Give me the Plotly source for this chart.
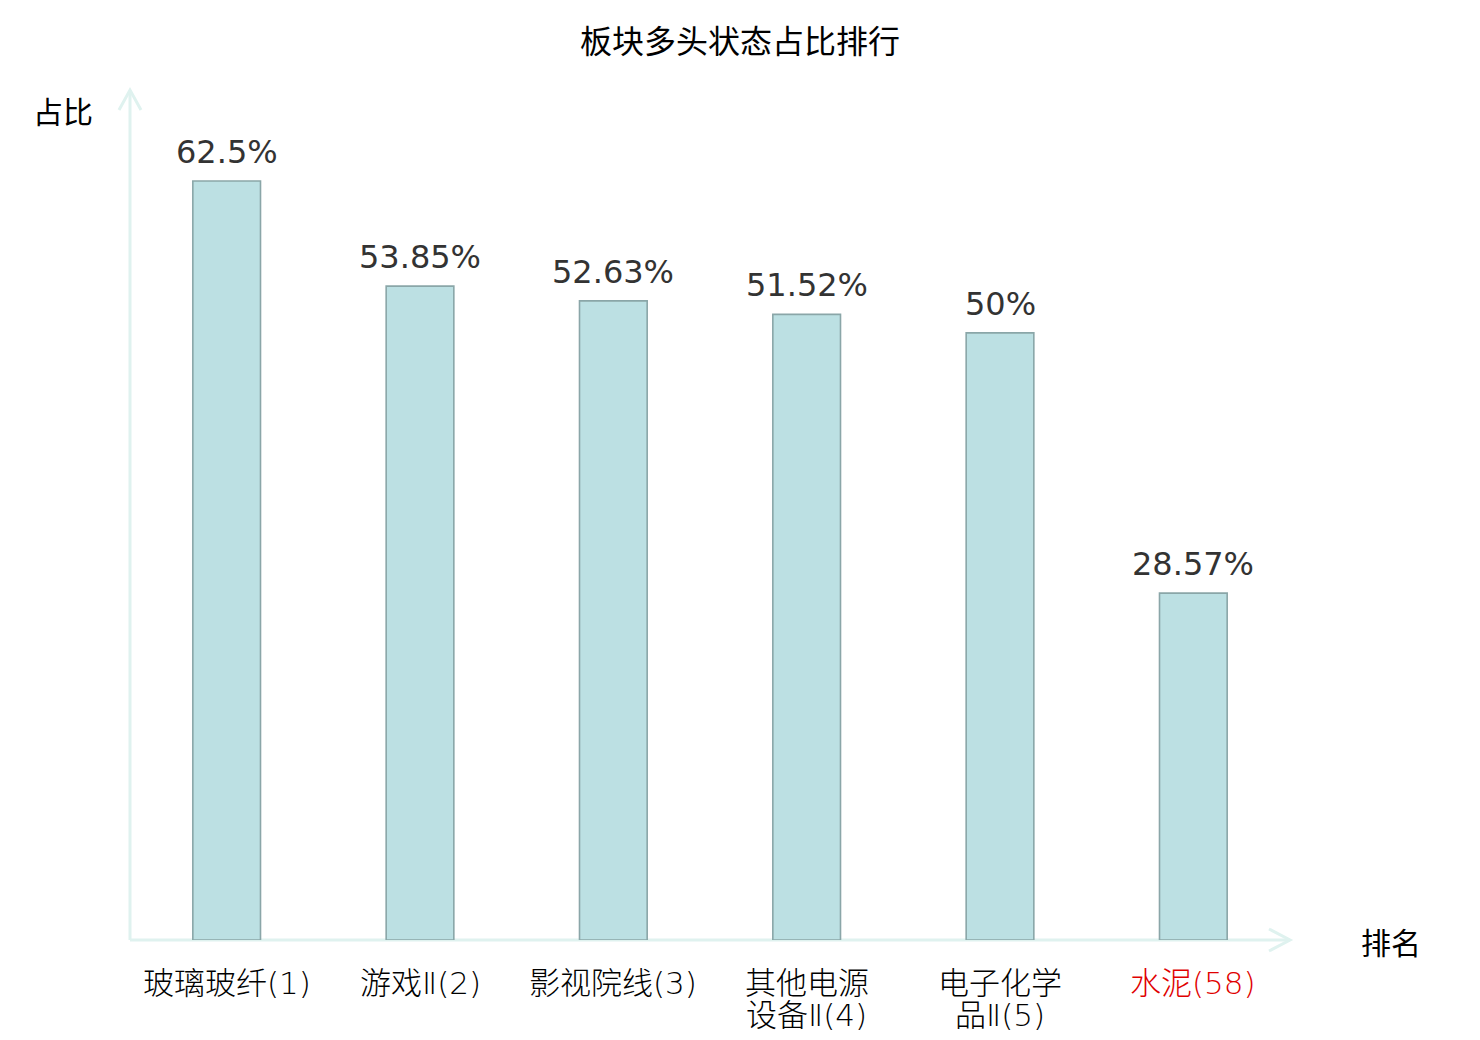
import plotly.graph_objects as go

# 板块多头状态占比排行
categories = ["玻璃玻纤(1)", "游戏Ⅱ(2)", "影视院线(3)", "其他电源设备Ⅱ(4)", "电子化学品Ⅱ(5)", "水泥(58)"]
label_lines = [["玻璃玻纤(1)"], ["游戏Ⅱ(2)"], ["影视院线(3)"],
               ["其他电源", "设备Ⅱ(4)"], ["电子化学", "品Ⅱ(5)"], ["水泥(58)"]]
label_colors = ["#000000", "#000000", "#000000", "#000000", "#000000", "#e00000"]
ratios = [62.5, 53.85, 52.63, 51.52, 50, 28.57]

axis_color = "#dff2ef"
font_stack = "DejaVu Sans, Noto Sans CJK SC"
light_stack = "DejaVu Sans ExtraLight, DejaVu Sans, Noto Sans CJK SC"

# the page body has an 8px margin, plot area wanted at (130, 90)-(1290, 940)
off = 8
left, top, pw, ph = 130 - off, 90 - off, 1160, 850

fig = go.Figure()

fig.add_trace(go.Bar(
    x=categories, y=ratios, width=0.35,
    marker=dict(color="rgb(188,224,227)", line=dict(color="rgb(138,166,168)", width=1.6)),
    hoverinfo="x+y", showlegend=False))

annotations = []
# value labels above the bars
for c, v in zip(categories, ratios):
    annotations.append(dict(x=c, y=v, xref="x", yref="y", text=f"{v:g}%", showarrow=False,
                            yanchor="bottom", yshift=8,
                            font=dict(family="DejaVu Sans", size=32, color="#333333")))

# category labels (two lines where the name is long)
for c, lines, col in zip(categories, label_lines, label_colors):
    for i, t in enumerate(lines):
        annotations.append(dict(x=c, y=0, xref="x", yref="y", text=t, showarrow=False,
                                yanchor="middle", yshift=-(43 + 31.5 * i),
                                font=dict(family=light_stack, size=31, color=col, weight=200)))

# axis names
for txt, px, py in [("占比", 63, 110), ("排名", 1391, 941)]:
    annotations.append(dict(x=(px - 130) / pw, y=(940 - py) / ph, xref="paper", yref="paper",
                            xanchor="center", yanchor="middle", text=txt, showarrow=False,
                            font=dict(family="Noto Sans CJK SC", size=30, color="#000000")))

# axis lines with open arrow heads
shapes = [
    dict(type="line", xref="paper", yref="paper", x0=0, y0=0, x1=0, y1=1,
         line=dict(color=axis_color, width=3), layer="below"),
    dict(type="line", xref="paper", yref="paper", x0=0, y0=0, x1=1, y1=0,
         line=dict(color=axis_color, width=3), layer="below"),
    dict(type="path", xref="paper", yref="paper", xsizemode="pixel", ysizemode="pixel",
         xanchor=0, yanchor=1, path="M-11,-20 L0,0 L11,-20",
         line=dict(color=axis_color, width=3), layer="below"),
    dict(type="path", xref="paper", yref="paper", xsizemode="pixel", ysizemode="pixel",
         xanchor=1, yanchor=0, path="M-21,11 L0,0 L-21,-11",
         line=dict(color=axis_color, width=3), layer="below"),
]

fig.update_layout(
    width=1480, height=1040,
    margin=dict(l=left, r=1480 - left - pw, t=top, b=1040 - top - ph),
    paper_bgcolor="white", plot_bgcolor="white",
    font=dict(family=font_stack),
    title=dict(text="板块多头状态占比排行", x=(740 - off) / 1480, xref="container", xanchor="center",
               y=1 - (42 - off) / 1040, yref="container", yanchor="middle",
               font=dict(family="Noto Sans CJK SC", size=32, color="#000000")),
    xaxis=dict(range=[-0.5, 5.5], showgrid=False, zeroline=False, showline=False,
               showticklabels=False, ticks=""),
    yaxis=dict(range=[0, 70], visible=False),
    annotations=annotations,
    shapes=shapes,
    bargap=0.65,
)

fig.write_html("out.html")
